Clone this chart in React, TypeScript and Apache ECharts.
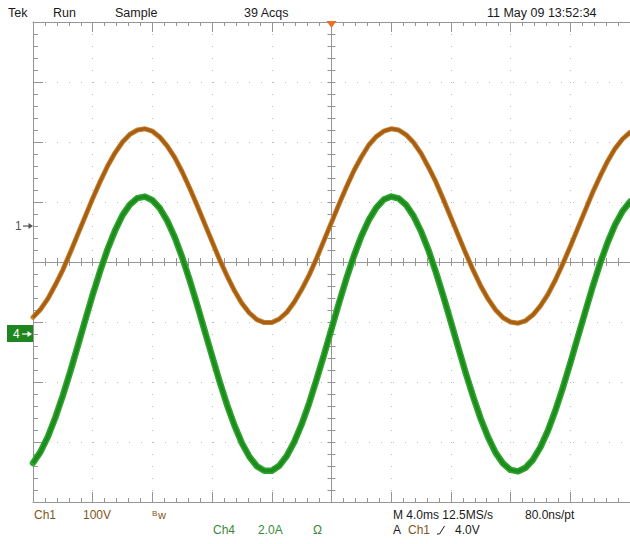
import React, { useEffect, useRef } from "react";
import * as echarts from "echarts";

// ---- data (time in ms relative to trigger, 0.5 ms steps) ----
const T_START_MS = -20;
const T_STEP_MS = 0.5;

// Channel 1 voltage (V)
const ch1Volts = [
  -152, -139, -121, -98, -73, -44, -14, 16, 46, 74,
  100, 122, 140, 153, 160, 162, 158, 148, 133, 114,
  90, 63, 34, 4, -26, -56, -83, -108, -129, -145,
  -156, -161, -161, -155, -144, -127, -106, -82, -54, -24,
  6, 36, 65, 92, 115, 135, 149, 158, 162, 160,
  152, 139, 121, 98, 73, 44, 14, -16, -46, -74,
  -100, -122, -140, -153, -160, -162, -158, -148, -133, -114,
  -90, -63, -34, -4, 26, 56, 83, 108, 129, 145,
  156,
];

// Channel 4 current (A)
const ch4Amps = [
  -4.3, -3.93, -3.42, -2.78, -2.05, -1.25, -0.4, 0.46, 1.31, 2.1,
  2.83, 3.45, 3.96, 4.32, 4.53, 4.58, 4.46, 4.19, 3.77, 3.22,
  2.55, 1.79, 0.97, 0.11, -0.74, -1.58, -2.36, -3.05, -3.64, -4.09,
  -4.41, -4.56, -4.56, -4.39, -4.07, -3.6, -3.01, -2.31, -1.52, -0.69,
  0.17, 1.03, 1.85, 2.6, 3.26, 3.8, 4.21, 4.48, 4.58, 4.52,
  4.3, 3.93, 3.42, 2.79, 2.05, 1.25, 0.4, -0.46, -1.31, -2.1,
  -2.83, -3.45, -3.96, -4.32, -4.53, -4.58, -4.46, -4.19, -3.77, -3.22,
  -2.55, -1.79, -0.97, -0.11, 0.74, 1.58, 2.36, 3.05, 3.64, 4.09,
  4.41,
];

// scope settings
const TIME_PER_DIV_MS = 4;
const H_DIVS = 10;
const V_DIVS = 8;
const CH1_VOLTS_PER_DIV = 100;
const CH1_OFFSET_DIV = 0.6;
const CH4_AMPS_PER_DIV = 2;
const CH4_OFFSET_DIV = -1.2;

// labels
const topLabels = ["Tek", "Run", "Sample", "39 Acqs", "11 May 09 13:52:34"];
const ch1Labels = ["Ch1", "100V"];
const ch4Labels = ["Ch4", "2.0A", "\u03A9"];
const timebaseLabels = ["M 4.0ms 12.5MS/s", "80.0ns/pt"];
const triggerLabels = ["A", "Ch1", "4.0V"];

const FONT = '"Liberation Sans", Arial, Helvetica, sans-serif';
const FRAME = "#959595";
const DOTS = "#bcbcbc";
const BROWN_TXT = "#7f5622";
const GREEN_TXT = "#3a8a3a";

function txt(text: string, x: number, y: number, fill: string, size = 12) {
  return {
    type: "text",
    x,
    y,
    silent: true,
    z: 10,
    style: { text, fill, fontSize: size, fontFamily: FONT, align: "left", verticalAlign: "middle" },
  };
}

export default function App() {
  const ref = useRef<HTMLDivElement>(null);

  useEffect(() => {
    if (!ref.current) return;
    const chart = echarts.init(ref.current, undefined, { renderer: "svg" });

    const times = ch1Volts.map((_, i) => T_START_MS + i * T_STEP_MS);
    const ch1Data = times.map((t, i) => [t, ch1Volts[i]]);
    const ch4Data = times.map((t, i) => [t, ch4Amps[i]]);

    const halfT = (H_DIVS / 2) * TIME_PER_DIV_MS;
    const halfV = V_DIVS / 2;
    const lineStyle = { color: FRAME, width: 1 };

    const xBase = {
      type: "value",
      min: -halfT,
      max: halfT,
      interval: TIME_PER_DIV_MS,
      axisLabel: { show: false },
      splitLine: { show: false },
    };
    const yBase = {
      type: "value",
      min: -halfV,
      max: halfV,
      interval: 1,
      axisLabel: { show: false },
      splitLine: { show: false },
    };

    chart.setOption({
      animation: false,
      backgroundColor: "#ffffff",
      grid: { left: 33, top: 22, width: 600, height: 480, containLabel: false },
      xAxis: [
        {
          ...xBase,
          position: "bottom",
          axisLine: { show: true, onZero: false, lineStyle },
          axisTick: { show: true, inside: true, length: 10, lineStyle },
          minorTick: { show: true, splitNumber: 5, length: 4, lineStyle },
          splitLine: { show: true, lineStyle: { color: DOTS, width: 1, type: [1, 11] } },
        },
        {
          ...xBase,
          position: "top",
          axisLine: { show: true, onZero: false, lineStyle },
          axisTick: { show: true, inside: true, length: 10, lineStyle },
          minorTick: { show: true, splitNumber: 5, length: 4, lineStyle },
        },
        {
          ...xBase,
          position: "bottom",
          axisLine: { show: true, onZero: true, onZeroAxisIndex: 0, lineStyle },
          axisTick: { show: true, inside: true, length: 4, lineStyle },
          minorTick: { show: true, splitNumber: 5, length: 4, lineStyle },
        },
        {
          ...xBase,
          position: "bottom",
          axisLine: { show: true, onZero: true, onZeroAxisIndex: 0, lineStyle },
          axisTick: { show: true, inside: false, length: 4, lineStyle },
          minorTick: { show: true, splitNumber: 5, length: 4, lineStyle },
        },
      ],
      yAxis: [
        {
          ...yBase,
          position: "left",
          axisLine: { show: true, onZero: false, lineStyle },
          axisTick: { show: true, inside: true, length: 10, lineStyle },
          minorTick: { show: true, splitNumber: 5, length: 5, lineStyle },
          splitLine: { show: true, lineStyle: { color: DOTS, width: 1, type: [1, 11] } },
        },
        {
          ...yBase,
          position: "left",
          axisLine: { show: true, onZero: true, onZeroAxisIndex: 0, lineStyle },
          axisTick: { show: true, inside: true, length: 4, lineStyle },
          minorTick: { show: true, splitNumber: 5, length: 4, lineStyle },
        },
        {
          ...yBase,
          position: "left",
          axisLine: { show: true, onZero: true, onZeroAxisIndex: 0, lineStyle },
          axisTick: { show: true, inside: false, length: 4, lineStyle },
          minorTick: { show: true, splitNumber: 5, length: 4, lineStyle },
        },
        {
          type: "value",
          show: false,
          position: "right",
          min: -(halfV + CH1_OFFSET_DIV) * CH1_VOLTS_PER_DIV,
          max: (halfV - CH1_OFFSET_DIV) * CH1_VOLTS_PER_DIV,
          axisLine: { onZero: false },
          splitLine: { show: false },
        },
        {
          type: "value",
          show: false,
          position: "right",
          min: -(halfV + CH4_OFFSET_DIV) * CH4_AMPS_PER_DIV,
          max: (halfV - CH4_OFFSET_DIV) * CH4_AMPS_PER_DIV,
          axisLine: { onZero: false },
          splitLine: { show: false },
        },
      ],
      series: [
        {
          type: "line", xAxisIndex: 0, yAxisIndex: 3, data: ch1Data, symbol: "none", silent: true, z: 3,
          lineStyle: { color: "#c5802e", width: 5, join: "round", cap: "round" },
        },
        {
          type: "line", xAxisIndex: 0, yAxisIndex: 3, data: ch1Data, symbol: "none", silent: true, z: 4,
          lineStyle: { color: "#a55e12", width: 3 },
        },
        {
          type: "line", xAxisIndex: 0, yAxisIndex: 4, data: ch4Data, symbol: "none", silent: true, z: 3,
          lineStyle: { color: "#30a530", width: 6.5, join: "round", cap: "round" },
        },
        {
          type: "line", xAxisIndex: 0, yAxisIndex: 4, data: ch4Data, symbol: "none", silent: true, z: 4,
          lineStyle: { color: "#1d8c1d", width: 3.5 },
        },
      ],
    });

    const xTrig = chart.convertToPixel({ xAxisIndex: 0 }, 0) as number;
    const yTop = chart.convertToPixel({ yAxisIndex: 0 }, halfV) as number;
    const y1 = chart.convertToPixel({ yAxisIndex: 3 }, 0) as number;
    const y4 = chart.convertToPixel({ yAxisIndex: 4 }, 0) as number;

    const topX = [8, 53, 115, 244, 487];
    const graphics: any[] = [];
    topLabels.forEach((s, i) => graphics.push(txt(s, topX[i], 12.5, "#1a1a1a", 12.5)));

    // bottom left: Ch1 settings
    graphics.push(txt(ch1Labels[0], 34, 515, BROWN_TXT));
    graphics.push(txt(ch1Labels[1], 83, 515, BROWN_TXT));
    graphics.push(txt("B", 152, 513, BROWN_TXT, 8));
    graphics.push(txt("w", 158, 515, BROWN_TXT, 11));
    // Ch4 settings
    const c4x = [213, 258, 313];
    ch4Labels.forEach((s, i) => graphics.push(txt(s, c4x[i], 529.5, GREEN_TXT)));
    // timebase
    graphics.push(txt(timebaseLabels[0], 393, 514.5, "#1a1a1a"));
    graphics.push(txt(timebaseLabels[1], 525, 514.5, "#1a1a1a"));
    // trigger
    graphics.push(txt(triggerLabels[0], 393, 529.5, "#1a1a1a"));
    graphics.push(txt(triggerLabels[1], 408, 529.5, BROWN_TXT));
    graphics.push({
      type: "polyline", silent: true, z: 10,
      shape: { points: [[437, 534], [439.5, 534], [444.5, 526]] },
      style: { stroke: "#1a1a1a", lineWidth: 1, fill: null },
    });
    graphics.push(txt(triggerLabels[2], 455, 529.5, "#1a1a1a"));

    // trigger position marker
    graphics.push({
      type: "polygon", silent: true, z: 10,
      shape: { points: [[xTrig - 5, yTop - 1], [xTrig + 5, yTop - 1], [xTrig, yTop + 6]] },
      style: { fill: "#e8702a" },
    });

    // channel 1 ground marker
    graphics.push(txt("1", 15, y1, "#555555", 12));
    graphics.push({
      type: "line", silent: true, z: 10,
      shape: { x1: 23, y1: y1, x2: 30, y2: y1 },
      style: { stroke: "#555555", lineWidth: 1.2 },
    });
    graphics.push({
      type: "polygon", silent: true, z: 10,
      shape: { points: [[28.5, y1 - 3], [33, y1], [28.5, y1 + 3]] },
      style: { fill: "#555555" },
    });

    // channel 4 ground marker
    graphics.push({
      type: "rect", silent: true, z: 9,
      shape: { x: 7, y: y4 - 9, width: 26, height: 17 },
      style: { fill: "#1f861f" },
    });
    graphics.push(txt("4", 13, y4, "#ffffff", 12));
    graphics.push({
      type: "line", silent: true, z: 10,
      shape: { x1: 22, y1: y4, x2: 29, y2: y4 },
      style: { stroke: "#ffffff", lineWidth: 1.2 },
    });
    graphics.push({
      type: "polygon", silent: true, z: 10,
      shape: { points: [[27.5, y4 - 3], [32, y4], [27.5, y4 + 3]] },
      style: { fill: "#ffffff" },
    });

    chart.setOption({ graphic: graphics });

    return () => chart.dispose();
  }, []);

  return (
    <div
      ref={ref}
      style={{ position: "fixed", left: 0, top: 0, width: 630, height: 544, background: "#ffffff" }}
    />
  );
}
